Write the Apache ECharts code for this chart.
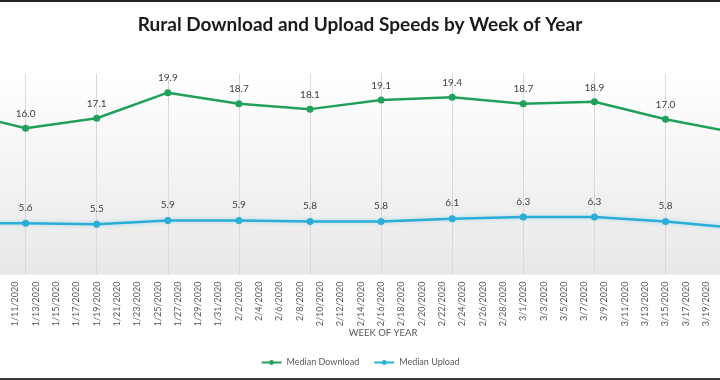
<!DOCTYPE html>
<html>
<head>
<meta charset="utf-8">
<script src="https://cdn.jsdelivr.net/npm/echarts@6/dist/echarts.min.js"></script>
<style>
html,body{margin:0;padding:0;background:#fff;}
#chart{width:720px;height:380px;}
</style>
</head>
<body>
<div id="chart"></div>
<script>
// Week-of-year points (Sundays); first and last lie just outside the visible crop
var weeks = ['1/5/2020','1/12/2020','1/19/2020','1/26/2020','2/2/2020','2/9/2020','2/16/2020','2/23/2020','3/1/2020','3/8/2020','3/15/2020','3/22/2020'];
var download = [17.9, 16.0, 17.1, 19.9, 18.7, 18.1, 19.1, 19.4, 18.7, 18.9, 17.0, 15.5];
var upload = [5.6, 5.6, 5.5, 5.9, 5.9, 5.8, 5.8, 6.1, 6.3, 6.3, 5.8, 5.1];
var seriesNames = ['Median Download', 'Median Upload'];
var titleText = 'Rural Download and Upload Speeds by Week of Year';
var axisTitle = 'WEEK OF YEAR';

var FONT = 'Lato, "Open Sans", sans-serif';
var BASE = Date.UTC(2020, 0, 5);
function dayNum(s) {
  var p = s.split('/');
  return (Date.UTC(+p[2], +p[0] - 1, +p[1]) - BASE) / 86400000;
}
function dayLabel(d) {
  var dt = new Date(BASE + d * 86400000);
  return (dt.getUTCMonth() + 1) + '/' + dt.getUTCDate() + '/' + dt.getUTCFullYear();
}
function pairs(vals) {
  return weeks.map(function (w, i) { return [dayNum(w), vals[i]]; });
}
var X_MIN = dayNum(weeks[0]);
var X_MAX = dayNum(weeks[weeks.length - 1]);

var chart = echarts.init(document.getElementById('chart'), null, {renderer: 'canvas'});
chart.setOption({
  backgroundColor: '#ffffff',
  animation: false,
  textStyle: {fontFamily: FONT},
  title: {
    text: titleText,
    left: 'center',
    top: 10,
    textStyle: {fontFamily: FONT, fontSize: 19, fontWeight: 'bold', color: '#1a1a1a'}
  },
  legend: {
    bottom: 8,
    left: 'center',
    itemWidth: 20,
    itemHeight: 6,
    itemGap: 14,
    textStyle: {fontFamily: FONT, fontSize: 9, color: '#595959'},
    data: seriesNames
  },
  grid: {
    left: -45.5,
    right: -16.6,
    top: 73.5,
    bottom: 105.5,
    containLabel: false,
    outerBoundsMode: 'none',
    show: true,
    borderWidth: 0,
    backgroundColor: {
      type: 'linear', x: 0, y: 0, x2: 0, y2: 1,
      colorStops: [{offset: 0, color: '#ffffff'}, {offset: 1, color: '#e8e8e8'}]
    }
  },
  xAxis: [
    {
      type: 'value',
      min: X_MIN,
      max: X_MAX,
      interval: 2,
      name: axisTitle,
      nameLocation: 'middle',
      nameGap: 53,
      nameMoveOverlap: false,
      nameTextStyle: {fontFamily: FONT, fontSize: 9.5, color: '#595959', padding: [0, 0, 0, 75]},
      axisLine: {show: false},
      axisTick: {show: false},
      splitLine: {show: false},
      axisLabel: {
        rotate: 90,
        margin: 7,
        fontSize: 9,
        color: '#595959',
        fontFamily: FONT,
        hideOverlap: false,
        formatter: function (v) { return dayLabel(v); }
      }
    },
    {
      type: 'value',
      position: 'bottom',
      min: X_MIN,
      max: X_MAX,
      interval: 7,
      axisLine: {show: false},
      axisTick: {show: false},
      axisLabel: {show: false},
      splitLine: {show: true, lineStyle: {color: '#d9d9d9', width: 1}}
    }
  ],
  yAxis: {
    type: 'value',
    min: 0,
    max: 22,
    show: false,
    splitLine: {show: false}
  },
  series: [
    {
      name: seriesNames[0],
      type: 'line',
      xAxisIndex: 0,
      data: pairs(download),
      symbol: 'circle',
      symbolSize: 7,
      lineStyle: {color: '#21a05b', width: 2.5},
      itemStyle: {color: '#21a05b'},
      label: {
        show: true, position: 'top', distance: 6,
        fontFamily: FONT, fontSize: 10, color: '#404040',
        formatter: function (p) { return p.value[1].toFixed(1); }
      }
    },
    {
      name: seriesNames[1],
      type: 'line',
      xAxisIndex: 0,
      data: pairs(upload),
      symbol: 'circle',
      symbolSize: 7,
      lineStyle: {color: '#2aaed8', width: 2.5, shadowColor: 'rgba(42,174,216,0.35)', shadowBlur: 4},
      itemStyle: {color: '#2aaed8'},
      label: {
        show: true, position: 'top', distance: 7,
        fontFamily: FONT, fontSize: 10, color: '#404040',
        formatter: function (p) { return p.value[1].toFixed(1); }
      }
    }
  ],
  graphic: [
    {type: 'rect', left: 0, top: 0, shape: {width: 720, height: 2}, style: {fill: '#222222'}, silent: true},
    {type: 'rect', left: 0, top: 378, shape: {width: 720, height: 2}, style: {fill: '#3a3a3a'}, silent: true}
  ]
});
</script>
</body>
</html>
